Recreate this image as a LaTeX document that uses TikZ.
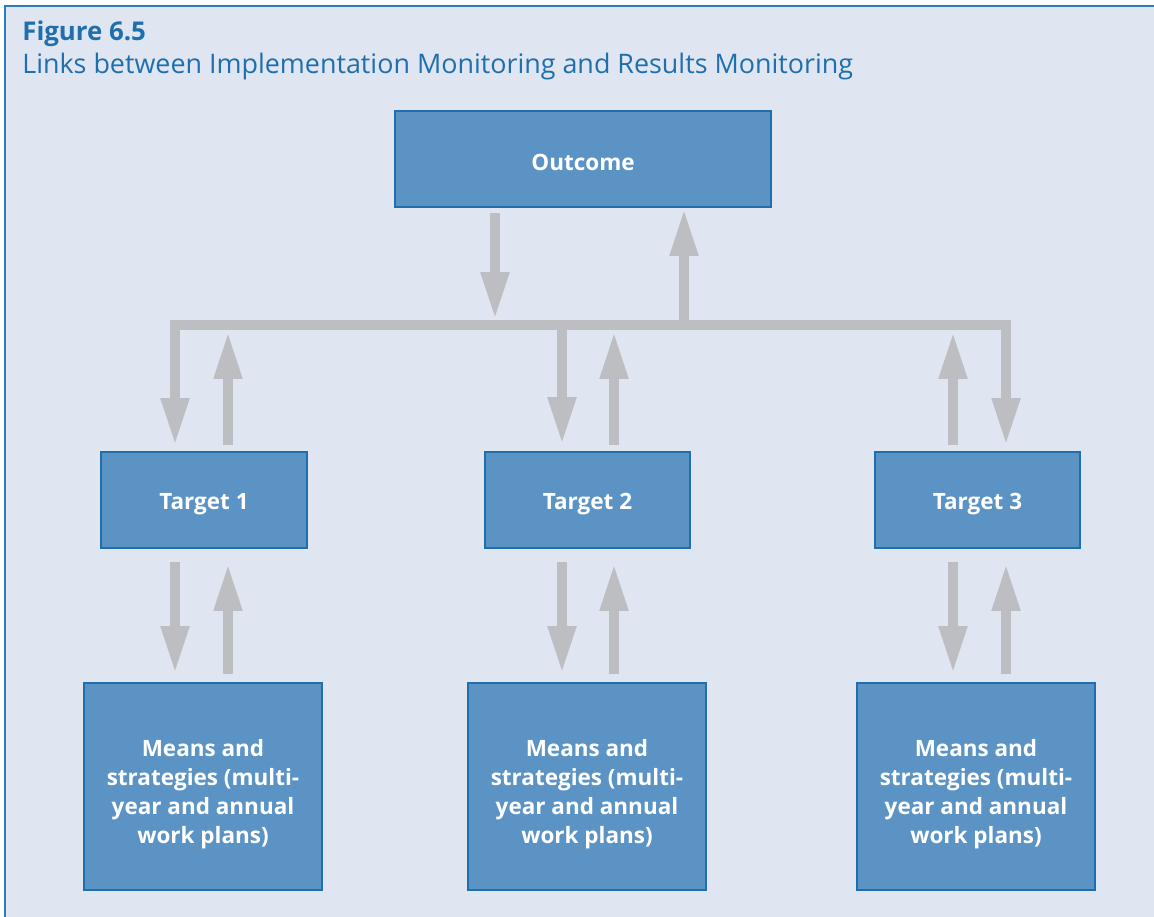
\documentclass[tikz,border=0pt]{standalone}
\usepackage{fontspec}
\setmainfont{Open Sans}
\usetikzlibrary{arrows.meta,calc}

\definecolor{panelbg}{HTML}{DFE6F1}
\definecolor{panelline}{HTML}{2A7BBF}
\definecolor{boxfill}{HTML}{5B93C5}
\definecolor{boxline}{HTML}{1F6EAD}
\definecolor{flowgray}{HTML}{BDBEC1}
\definecolor{titleblue}{HTML}{1F6FAD}

\tikzset{
  box/.style={draw=boxline, fill=boxfill, line width=0.04cm, inner sep=0pt},
  boxtext/.style={text=white, font=\bfseries\fontsize{12.8}{16.5}\selectfont,
    align=center, inner sep=0pt},
  targetbox/.style={box, minimum width=4.12cm, minimum height=1.92cm},
  meansbox/.style={box, minimum width=4.76cm, minimum height=4.14cm},
  flow/.style={draw=flowgray, line width=0.21cm, line join=miter,
    -{Triangle[length=0.96cm,width=0.52cm]}},
}

\begin{document}
\begin{tikzpicture}[x=0.02cm, y=-0.02cm]
% \clip (0,0) rectangle (1154,917);
\useasboundingbox (0,0) rectangle (1154,917);

% Drawing panel
\draw [fill=panelbg, draw=panelline, line width=0.03cm] (5,6) rectangle (1170,940);%

% Marking title
\node [anchor=base west, inner sep=0pt, text=titleblue, font=\bfseries\fontsize{14.7}{16}\selectfont] (fig) at (22,40) {Figure 6.5};%
\node [anchor=base west, inner sep=0pt, text=titleblue, font=\fontsize{15.3}{18}\selectfont] (caption) at (22,73) {Links between Implementation Monitoring and Results Monitoring};%

% Drawing box Outcome
\node [box, minimum width=7.52cm, minimum height=1.92cm] (outcome) at (583,159) {};%
\node [boxtext] at ([yshift=-0.07cm]outcome.center) {Outcome};%

% Drawing boxes Target 1..3
\node [targetbox] (target1) at (204,500) {};%
\node [targetbox] (target2) at (587.5,500) {};%
\node [targetbox] (target3) at (977.5,500) {};%

% Drawing boxes Means
\node [meansbox] (means1) at (203,786.5) {};%
\node [meansbox] (means2) at (587,786.5) {};%
\node [meansbox] (means3) at (976,786.5) {};%
\foreach \i in {1,2,3} {
  \node [boxtext] at ([yshift=-0.09cm]target\i.center) {Target \i};%
  \node [boxtext] at ([yshift=-0.16cm]means\i.center) {Means and\\strategies (multi-\\year and annual\\work plans)};%
}

% Drawing bar
\coordinate (barL) at (175,325);
\coordinate (barR) at (1006,325);
\coordinate (dn1) at (175,446);
\coordinate (dn3) at (1006,446);
\draw [flow, {Triangle[length=0.96cm,width=0.52cm]}-{Triangle[length=0.96cm,width=0.52cm]}] (dn1) -- (barL) -- (barR) -- (dn3);%

% Drawing arrows Outcome and bar
\draw [flow] ($(outcome.south -| 495,0)+(0,5)$) -- (495,320);%
\draw [flow] (684,320) -- (outcome.south -| 684,0);%

% Drawing arrows bar and targets
\draw [flow] (562,320) -- ($(target2.north -| 562,0)+(0,-6)$);%
\draw [flow] ($(target1.north -| 228,0)+(0,-6)$) -- (228,331);%
\draw [flow] ($(target2.north -| 614,0)+(0,-6)$) -- (614,331);%
\draw [flow] ($(target3.north -| 953,0)+(0,-6)$) -- (953,331);%

% Drawing arrows targets and means
\foreach \i/\d/\u in {1/175/228, 2/562/614, 3/953/1006} {
  \draw [flow] ($(target\i.south -| \d,0)+(0,13)$) -- ($(means\i.north -| \d,0)+(0,-8)$);%
  \draw [flow] ($(means\i.north -| \u,0)+(0,-8)$) -- ($(target\i.south -| \u,0)+(0,14)$);%
}
\end{tikzpicture}
\end{document}
